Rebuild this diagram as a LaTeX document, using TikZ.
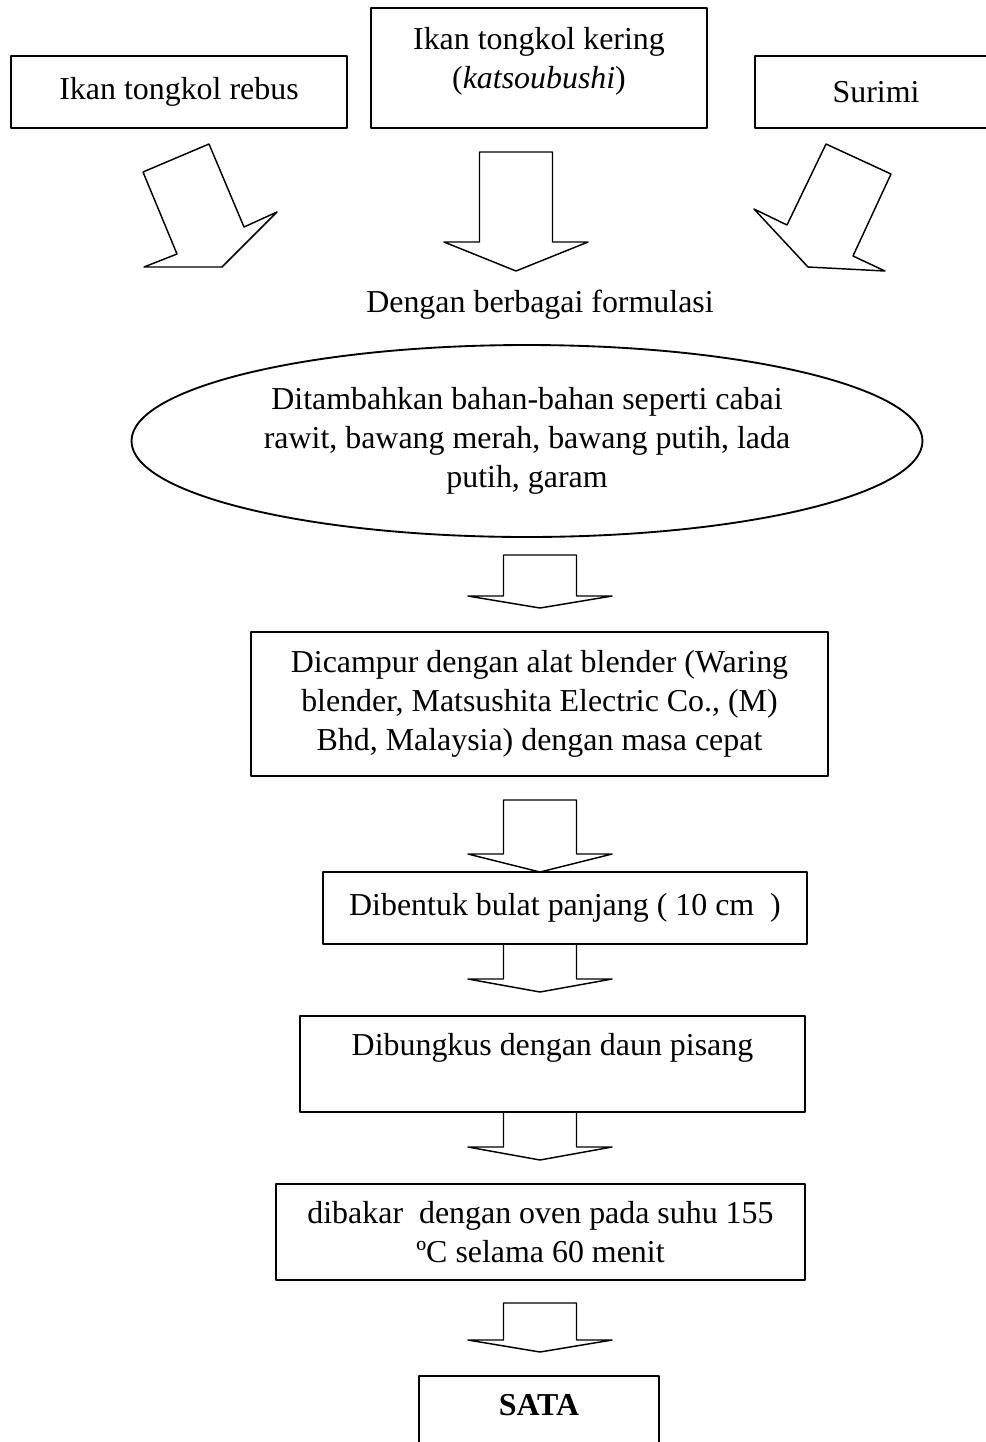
\documentclass[tikz,border=0pt]{standalone}
\usepackage{fontspec}
\setmainfont{Liberation Serif}
\usetikzlibrary{shapes.geometric}
% panah blok tegak: x tengah, y atas, y kepala, y ujung
\newcommand{\panahblok}[4]{\draw[panah] ({#1-36.5},#2) -- ({#1+36.5},#2) -- ({#1+36.5},#3) -- ({#1+72},#3) -- (#1,#4) -- ({#1-72},#3) -- ({#1-36.5},#3) -- cycle;}
\begin{document}
\begin{tikzpicture}[x=0.376pt,y=-0.376pt,line join=round,font=\fontsize{12pt}{14.6pt}\selectfont,
    kotak/.style={draw,line width=0.7pt,inner sep=0pt,align=center},
    panah/.style={line width=0.55pt}]
    \def\u{0.376pt}
    \clip (0,0) rectangle (986,1442);
    % bahan baku
    \node[kotak,minimum width=336*\u,minimum height=72*\u] (rebus) at (179,92) {Ikan tongkol rebus};
    \node[kotak,minimum width=336*\u,minimum height=120*\u] (kering) at (539,68) {Ikan tongkol kering\\(\textit{katsoubushi})\\[-7pt]\mbox{}};
    \node[kotak,minimum width=242*\u,minimum height=72*\u] (surimi) at (876,92) {Surimi};
    \draw[panah] (143,172) -- (209,144) -- (244,227) -- (277,212) -- (222,267) -- (144,267) -- (177,254) -- cycle;
    \panahblok{516}{152}{242}{271}
    \draw[panah] (826,144) -- (891,174) -- (853,256) -- (885,271) -- (808,267) -- (754,209) -- (787,225) -- cycle;
    \node (formulasi) at (540,305) {Dengan berbagai formulasi};
    \node[kotak,ellipse,minimum width=791*\u,minimum height=192*\u] (tambah) at (527,441)
        {Ditambahkan bahan-bahan seperti cabai\\rawit, bawang merah, bawang putih, lada\\putih, garam};
    \panahblok{540}{555}{596}{608}
    \node[kotak,minimum width=577*\u,minimum height=144*\u] (campur) at (539.5,704)
        {Dicampur dengan alat blender (Waring\\blender, Matsushita Electric Co., (M)\\Bhd, Malaysia) dengan masa cepat};
    \panahblok{540}{800}{854}{872}
    \node[kotak,minimum width=484*\u,minimum height=72*\u] (bentuk) at (565,908) {Dibentuk bulat panjang ( 10 cm \ )};
    \panahblok{540}{944}{979}{992}
    \node[kotak,minimum width=505*\u,minimum height=96*\u] (bungkus) at (552.5,1064) {Dibungkus dengan daun pisang\\ \mbox{}};
    \panahblok{540}{1112}{1147}{1160}
    \node[kotak,minimum width=529*\u,minimum height=96*\u] (bakar) at (540.5,1232) {dibakar\ \ dengan oven pada suhu 155\\ºC selama 60 menit};
    \panahblok{540}{1303}{1340}{1352}
    \node[kotak,minimum width=240*\u,minimum height=96*\u] (sata) at (539,1424) {\textbf{SATA}\\ \mbox{}};
\end{tikzpicture}
\end{document}
